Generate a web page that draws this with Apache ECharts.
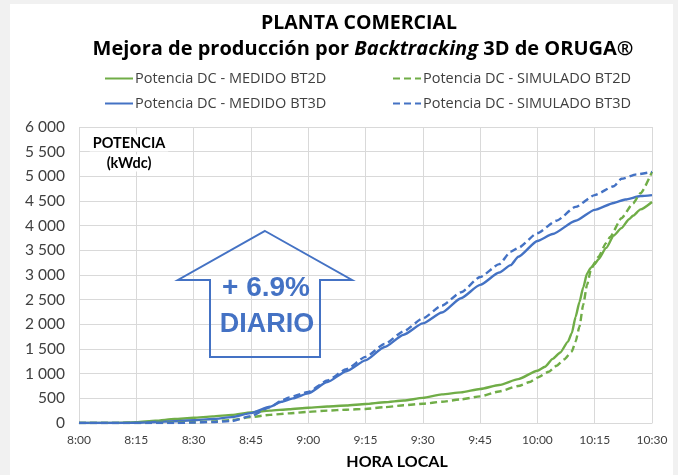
<!DOCTYPE html>
<html>
<head>
<meta charset="utf-8">
<script src="https://cdn.jsdelivr.net/npm/echarts@6/dist/echarts.min.js"></script>
<style>
    html, body { margin: 0; padding: 0; background: #f1f1f1; }
    #card { position: absolute; left: 10px; top: 4px; width: 663px; height: 471px; background: #fff; }
    #chart { position: absolute; left: 0; top: 0; width: 678px; height: 475px; }
</style>
</head>
<body>
<div id="card"></div>
<div id="chart"></div>
<script>
// minutos desde las 8:00
var xTicks = ['8:00', '8:15', '8:30', '8:45', '9:00', '9:15', '9:30', '9:45', '10:00', '10:15', '10:30'];
var yTicks = [0, 500, 1000, 1500, 2000, 2500, 3000, 3500, 4000, 4500, 5000, 5500, 6000];

// Potencia DC - MEDIDO BT2D
var tMed2D = [0, 10, 15, 20, 25, 30, 35, 40, 45, 50, 55, 60, 65, 70, 75, 80, 85, 90, 95, 100, 105, 110, 115, 120, 122, 124, 126, 128, 129, 130, 131, 132, 133, 134, 135, 136, 138, 140, 142, 144, 145, 147, 150];
var pMed2D = [0, 3, 15, 45, 80, 105, 135, 165, 215, 250, 280, 310, 335, 355, 385, 420, 455, 510, 580, 620, 690, 770, 890, 1060, 1140, 1300, 1430, 1650, 1820, 2150, 2450, 2750, 3030, 3150, 3220, 3320, 3550, 3800, 3950, 4130, 4200, 4330, 4480];
// Potencia DC - SIMULADO BT2D
var tSim2D = [0, 15, 25, 30, 35, 40, 45, 50, 55, 60, 65, 70, 75, 80, 85, 90, 95, 100, 105, 110, 115, 118, 120, 123, 125, 127, 129, 130, 131, 132, 133, 134, 135, 136, 138, 139, 142, 145, 147, 150];
var pSim2D = [0, 0, 8, 15, 30, 60, 120, 165, 195, 225, 250, 270, 285, 320, 360, 390, 430, 480, 540, 640, 750, 830, 920, 1040, 1160, 1290, 1450, 1650, 1950, 2400, 2800, 3100, 3250, 3370, 3650, 3770, 4150, 4450, 4660, 5090];
// Potencia DC - MEDIDO BT3D
var tMed3D = [0, 10, 15, 20, 25, 30, 35, 40, 45, 50, 53, 56, 60, 65, 70, 75, 80, 85, 90, 95, 100, 105, 110, 113, 115, 120, 124, 130, 135, 140, 143, 147, 150];
var pMed3D = [0, 0, 5, 20, 35, 55, 80, 120, 200, 330, 430, 500, 600, 830, 1050, 1270, 1540, 1790, 2020, 2240, 2530, 2800, 3050, 3200, 3370, 3690, 3830, 4100, 4320, 4460, 4530, 4600, 4620];
// Potencia DC - SIMULADO BT3D
var tSim3D = [0, 25, 30, 35, 40, 45, 50, 53, 55, 60, 65, 70, 75, 80, 85, 90, 95, 100, 105, 110, 113, 115, 120, 125, 130, 135, 140, 142, 146, 150];
var pSim3D = [0, 0, 10, 20, 40, 140, 320, 450, 520, 630, 860, 1090, 1340, 1600, 1860, 2120, 2380, 2650, 2960, 3220, 3470, 3550, 3850, 4100, 4380, 4620, 4800, 4950, 5040, 5090];

var names = ['Potencia DC - MEDIDO BT2D', 'Potencia DC - SIMULADO BT2D', 'Potencia DC - MEDIDO BT3D', 'Potencia DC - SIMULADO BT3D'];
var verde = '#70AD47', azul = '#4472C4';

function zip(t, p) {
    return t.map(function(v, i) { return [v, p[i]]; });
}

function fmtMiles(v) {
    if (v < 1000) return String(v);
    return Math.floor(v / 1000) + ' ' + String(v % 1000).padStart(3, '0');
}

var chart = echarts.init(document.getElementById('chart'));

function serie(name, data, color, dashed, z) {
    return {
        name: name,
        type: 'line',
        data: data,
        showSymbol: false,
        symbol: 'none',
        smooth: 0.2,
        smoothMonotone: 'x',
        z: z,
        lineStyle: { color: color, width: 2.4, type: dashed ? [7, 4] : 'solid' },
        itemStyle: { color: color }
    };
}

function leyenda(name, left, top) {
    return {
        data: [name],
        left: left,
        top: top,
        itemWidth: 28,
        itemHeight: 10,
        itemGap: 0,
        padding: 0,
        selectedMode: false,
        itemStyle: { opacity: 0 },
        textStyle: { color: '#404040', fontSize: 14.5, fontFamily: 'Open Sans', padding: [0, 0, 0, -3] }
    };
}

var option = {
    animation: false,
    textStyle: { fontFamily: 'Lato' },
    title: [{
        text: 'PLANTA COMERCIAL',
        left: 354,
        top: 8,
        textAlign: 'center',
        textStyle: { fontSize: 19.5, fontWeight: 'bold', color: '#000', fontFamily: 'Open Sans' }
    }, {
        text: '{b|Mejora de producción por }{i|Backtracking}{b| 3D de ORUGA®}',
        left: 358,
        top: 34,
        textAlign: 'center',
        textStyle: {
            rich: {
                b: { fontSize: 20, fontWeight: 'bold', color: '#000', fontFamily: 'Open Sans' },
                i: { fontSize: 20, fontWeight: 'bold', fontStyle: 'italic', color: '#000', fontFamily: 'Open Sans' }
            }
        }
    }],
    legend: [
        leyenda(names[0], 104, 71),
        leyenda(names[1], 392, 71),
        leyenda(names[2], 104, 96),
        leyenda(names[3], 392, 96)
    ],
    grid: { left: 79, right: 26, top: 127, bottom: 52, containLabel: false },
    xAxis: {
        type: 'value',
        min: 0,
        max: 150,
        interval: 15,
        axisLine: { show: true, lineStyle: { color: '#D9D9D9', width: 1 } },
        axisTick: { show: false },
        splitLine: { show: true, lineStyle: { color: '#D9D9D9', width: 1 } },
        axisLabel: {
            color: '#404040',
            fontSize: 12,
            margin: 11,
            formatter: function(v) { return xTicks[Math.round(v / 15)]; }
        }
    },
    yAxis: {
        type: 'value',
        min: yTicks[0],
        max: yTicks[yTicks.length - 1],
        interval: 500,
        axisLine: { show: false },
        axisTick: { show: false },
        splitLine: { show: true, lineStyle: { color: '#D9D9D9', width: 1 } },
        axisLabel: { color: '#404040', fontSize: 15.5, margin: 14, formatter: fmtMiles }
    },
    graphic: [{
        type: 'text',
        x: 129, y: 143,
        z: 50,
        style: {
            text: 'POTENCIA', fill: '#000', font: 'bold 14.5px Lato',
            align: 'center', verticalAlign: 'middle',
            backgroundColor: '#fff', padding: [1, 3]
        }
    }, {
        type: 'text',
        x: 129, y: 163,
        z: 50,
        style: {
            text: '(kWdc)', fill: '#000', font: 'bold 14.5px Lato',
            align: 'center', verticalAlign: 'middle',
            backgroundColor: '#fff', padding: [1, 3]
        }
    }, {
        type: 'text',
        x: 397, y: 462,
        style: {
            text: 'HORA LOCAL', fill: '#000', font: 'bold 16px Lato',
            align: 'center', verticalAlign: 'middle'
        }
    }, {
        type: 'polygon',
        z: 40,
        shape: {
            points: [[265, 231], [352, 280], [320, 280], [320, 357], [210, 357], [210, 280], [178, 280]]
        },
        style: { fill: 'rgba(255,255,255,0)', stroke: azul, lineWidth: 2 }
    }, {
        type: 'text',
        x: 266, y: 288,
        z: 41,
        style: {
            text: '+ 6.9%', fill: azul, font: 'bold 28px "Liberation Sans"',
            align: 'center', verticalAlign: 'middle'
        }
    }, {
        type: 'text',
        x: 267, y: 325,
        z: 41,
        style: {
            text: 'DIARIO', fill: azul, font: 'bold 27px "Liberation Sans"',
            align: 'center', verticalAlign: 'middle'
        }
    }],
    series: [
        serie(names[0], zip(tMed2D, pMed2D), verde, false, 2),
        serie(names[2], zip(tMed3D, pMed3D), azul, false, 3),
        serie(names[1], zip(tSim2D, pSim2D), verde, true, 4),
        serie(names[3], zip(tSim3D, pSim3D), azul, true, 5)
    ]
};

chart.setOption(option);
</script>
</body>
</html>
